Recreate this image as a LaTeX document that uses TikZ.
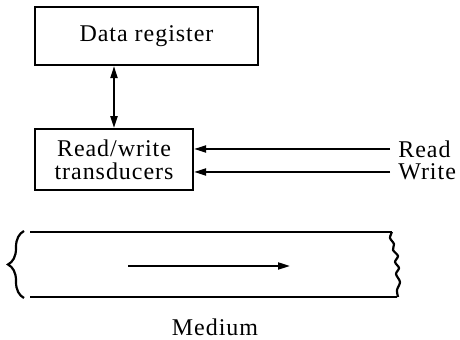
\documentclass[tikz,border=0pt]{standalone}
\usepackage{fontspec}
\setmainfont{Liberation Serif}[LetterSpace=4]
\usetikzlibrary{arrows.meta,positioning,decorations.pathreplacing}

\begin{document}
\begin{tikzpicture}[
  x=0.5pt, y=-0.5pt,
  font=\fontsize{12}{11.5}\selectfont,
  unit/.style={rectangle, draw, line width=1.1pt, inner sep=0pt, align=center},
  arrow/.style={-{Triangle[length=6pt,width=3.5pt]}, line width=1pt},
  dblarrow/.style={{Triangle[length=6pt,width=3.5pt]}-{Triangle[length=6pt,width=3.5pt]}, line width=1pt},
  tape/.style={line width=1.1pt},
  sig/.style={inner sep=0pt, anchor=west}
]
  \useasboundingbox (0,0) rectangle (460,340);
  % Nodes
  \node[unit, minimum width=111.5pt, minimum height=29pt] (reg) at (146.5,36) {Data register};
  \node[unit, minimum width=79pt, minimum height=30.5pt, below=31pt of reg.south west, anchor=north west] (rw)
    {Read/write\\transducers};
  \node[sig] (rd) at (398,149) {Read};
  \node[sig] (wr) at (398,172) {Write};
  \node[anchor=base] (med) at (215,336) {Medium};

  % Connectors
  \draw[dblarrow] (rw.north) -- (rw.north |- reg.south);
  \draw[arrow] ([xshift=-4pt]rd.west) -- (rd.west -| rw.east);
  \draw[arrow] ([xshift=-4pt]wr.west) -- (wr.west -| rw.east);

  % Medium (tape)
  \draw[tape] (30,232) -- (392,232);
  \draw[tape] (30,297) -- (397,297);
  \draw[tape, decorate, decoration={brace, amplitude=8pt}] (24,298) -- (24,231);
  \draw[tape] plot[smooth] coordinates {(392,232) (390,238) (394,244) (393,250) (398,256)
    (395,262) (399,268) (396,274) (400,282) (397,290) (398,297)};
  \coordinate (mvs) at (128,266);
  \coordinate (mve) at (290,266);
  \draw[arrow] (mvs) -- (mve);
\end{tikzpicture}
\end{document}
